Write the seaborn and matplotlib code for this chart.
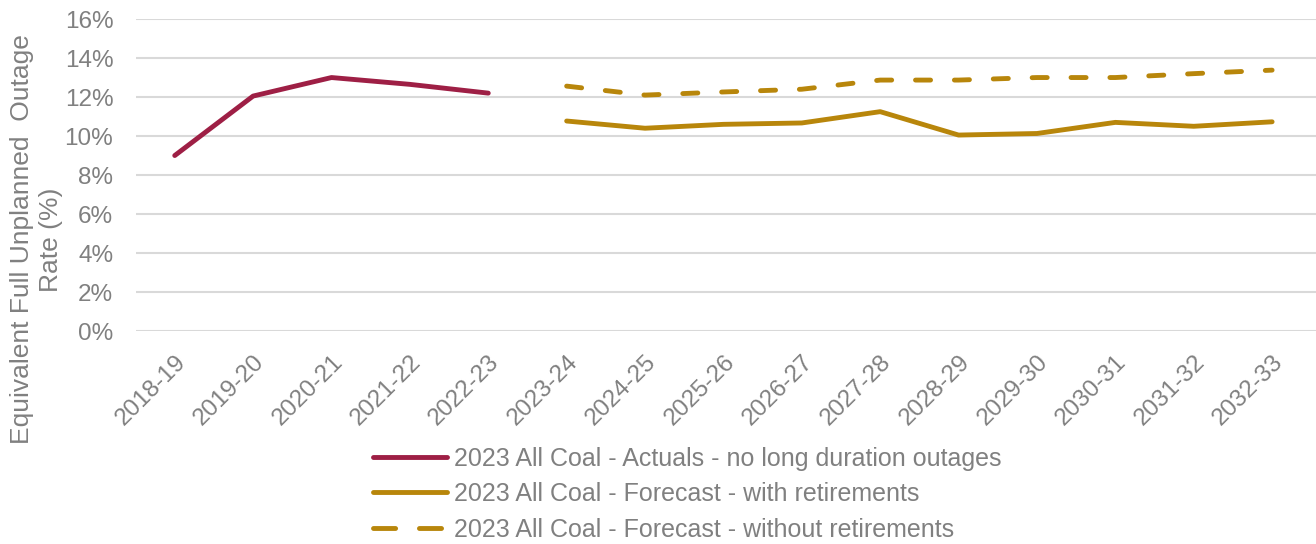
import pandas as pd
import matplotlib
matplotlib.use("Agg")
import matplotlib.pyplot as plt
from matplotlib.lines import Line2D
import seaborn as sns

# =========================
# DATA
# =========================

years = ["2018-19", "2019-20", "2020-21", "2021-22", "2022-23",
         "2023-24", "2024-25", "2025-26", "2026-27", "2027-28",
         "2028-29", "2029-30", "2030-31", "2031-32", "2032-33"]

actual_years = years[:5]
actual_vals = [9.0, 12.05, 13.0, 12.65, 12.2]

fc_years = years[5:]
fc_with_ret = [10.77, 10.4, 10.6, 10.67, 11.25, 10.05, 10.13, 10.7, 10.5, 10.73]
fc_without_ret = [12.56, 12.1, 12.26, 12.4, 12.87, 12.87, 13.0, 13.0, 13.2, 13.38]

labels = ["2023 All Coal - Actuals - no long duration outages",
          "2023 All Coal - Forecast - with retirements",
          "2023 All Coal - Forecast - without retirements"]

colors = ["#9E1F45", "#B8860B", "#B8860B"]

# =========================
# LONG TABLE
# =========================

df = pd.concat([
    pd.DataFrame({"year": actual_years, "val": actual_vals, "serie": labels[0]}),
    pd.DataFrame({"year": fc_years, "val": fc_with_ret, "serie": labels[1]}),
    pd.DataFrame({"year": fc_years, "val": fc_without_ret, "serie": labels[2]}),
], ignore_index=True)
df["pos"] = df["year"].map({y: i for i, y in enumerate(years)})

# =========================
# PLOT
# =========================

sns.set_style("white")
plt.rcParams["font.family"] = ["Liberation Sans", "DejaVu Sans"]
grey = "#808080"

fig = plt.figure(figsize=(13.16, 5.44), dpi=100)
ax = fig.add_axes([0.103, 0.3915, 0.897, 0.5735])

sns.lineplot(data=df, x="pos", y="val", hue="serie", style="serie",
             palette=dict(zip(labels, colors)),
             dashes={labels[0]: "", labels[1]: "", labels[2]: (3.1, 4.9)},
             linewidth=3.5, legend=False, ax=ax)

for ln in ax.lines:
    ln.set_solid_capstyle("round")
    ln.set_dash_capstyle("round")

ax.set_xlim(-0.5, len(years) - 0.44)
ax.set_ylim(0, 16)
ax.set_yticks(range(0, 17, 2))
ax.set_yticklabels([f"{v}%" for v in range(0, 17, 2)])
ax.set_xticks(range(len(years)))
ax.set_xticklabels(years, rotation=45, ha="right", rotation_mode="anchor")

ax.tick_params(axis="both", length=0, labelsize=17.5, labelcolor=grey)
ax.tick_params(axis="x", pad=14)
ax.tick_params(axis="y", pad=16)
ax.yaxis.grid(True, color="#D9D9D9", linewidth=1.5)
ax.set_axisbelow(True)
for s in ax.spines.values():
    s.set_visible(False)

ax.set_xlabel("")
ax.set_ylabel("")
fig.text(0.0275, 0.56, "Equivalent Full Unplanned  Outage\nRate (%)",
         rotation=90, ha="center", va="center", multialignment="center",
         fontsize=19, color=grey, linespacing=1.25)

# legenda: tracejado do handle um pouco mais longo, como no original
handles = []
for c, dash in zip(colors, [None, None, (4.55, 4.9)]):
    h = Line2D([], [], color=c, linewidth=3.5,
               solid_capstyle="round", dash_capstyle="round")
    if dash:
        h.set_dashes(dash)
    handles.append(h)

fig.legend(handles=handles, labels=labels, loc="upper left",
           bbox_to_anchor=(0.2835, 0.179), frameon=False, fontsize=18,
           labelcolor=grey, handlelength=2.95, handletextpad=0.28,
           labelspacing=0.46, borderpad=0, borderaxespad=0)

fig.savefig("out.png", dpi=100)
